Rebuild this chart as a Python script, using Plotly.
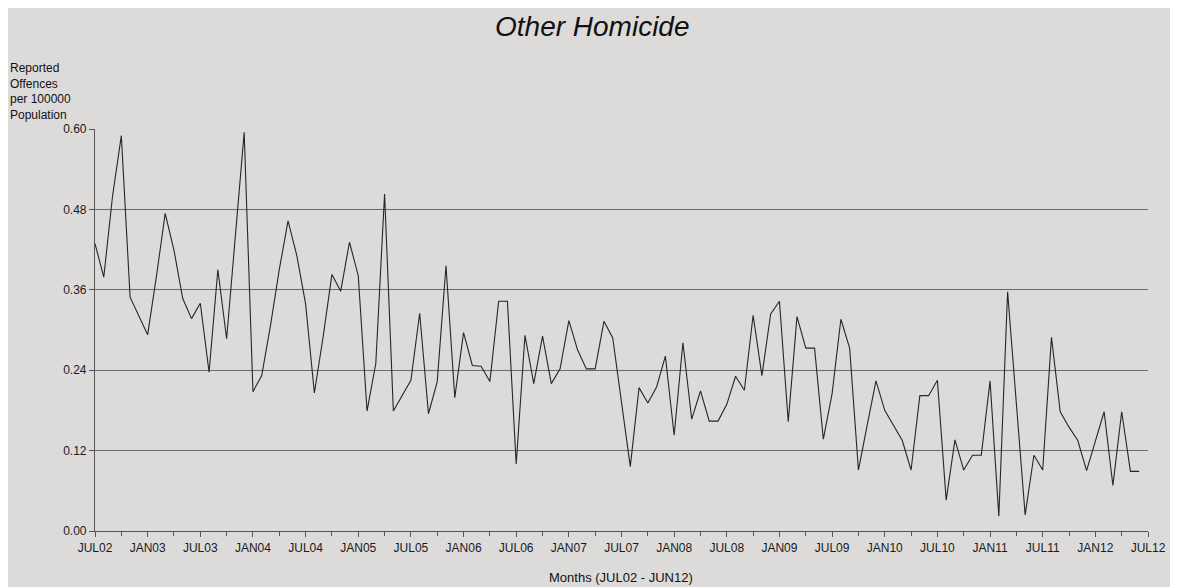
import plotly.graph_objects as go

# Monthly values JUL02 .. JUN12 (120 months), offences per 100000 population
values = [
    0.429, 0.379, 0.500, 0.590, 0.349, 0.322, 0.293, 0.380, 0.474, 0.419,
    0.347, 0.317, 0.340, 0.237, 0.390, 0.287, 0.440, 0.595, 0.208, 0.232,
    0.307, 0.390, 0.463, 0.411, 0.339, 0.206, 0.290, 0.383, 0.358, 0.431,
    0.381, 0.179, 0.250, 0.503, 0.179, 0.202, 0.225, 0.325, 0.175, 0.223,
    0.396, 0.199, 0.296, 0.247, 0.246, 0.223, 0.343, 0.343, 0.100, 0.292,
    0.220, 0.291, 0.220, 0.242, 0.314, 0.270, 0.242, 0.242, 0.313, 0.288,
    0.190, 0.096, 0.214, 0.191, 0.215, 0.261, 0.143, 0.281, 0.167, 0.209,
    0.164, 0.164, 0.189, 0.231, 0.210, 0.322, 0.232, 0.324, 0.343, 0.163,
    0.320, 0.273, 0.273, 0.137, 0.205, 0.316, 0.273, 0.091, 0.158, 0.224,
    0.180, 0.158, 0.135, 0.091, 0.202, 0.202, 0.225, 0.046, 0.136, 0.091,
    0.113, 0.113, 0.224, 0.022, 0.357, 0.190, 0.024, 0.113, 0.091, 0.289,
    0.178, 0.155, 0.135, 0.090, 0.133, 0.178, 0.068, 0.178, 0.089, 0.089,
]
months = list(range(len(values)))

tick_labels = ["JUL02", "JAN03", "JUL03", "JAN04", "JUL04", "JAN05", "JUL05",
               "JAN06", "JUL06", "JAN07", "JUL07", "JAN08", "JUL08", "JAN09",
               "JUL09", "JAN10", "JUL10", "JAN11", "JUL11", "JAN12", "JUL12"]
tick_positions = [6 * k for k in range(len(tick_labels))]
y_ticks = [0.00, 0.12, 0.24, 0.36, 0.48, 0.60]

BG = "#dcdbda"
FONT = "Liberation Sans, Arial, sans-serif"

# page is offset by the browser's 8px body margin
OFF = 8
W, H = 1178 - OFF, 587 - OFF
PL, PT, PR, PB = 95, 129, 1152, 531          # plot area in page pixels
L, T = PL - OFF, PT - OFF
R = W - (PR - OFF)
B = H - (PB - OFF)
pw, ph = PR - PL, PB - PT


def px(xp):
    return (xp - PL) / pw


def py(yp):
    return (PB - yp) / ph


fig = go.Figure()
fig.add_trace(go.Scatter(
    x=months, y=values, mode="lines",
    line=dict(color="#262626", width=1.1),
    hoverinfo="x+y", showlegend=False,
))

fig.update_layout(
    width=W, height=H,
    margin=dict(l=L, r=R, t=T, b=B),
    paper_bgcolor=BG,
    plot_bgcolor=BG,
    font=dict(family=FONT, color="#1a1a1a"),
    xaxis=dict(
        range=[0, 120], tickmode="array", tickvals=tick_positions, ticktext=tick_labels,
        showgrid=False, zeroline=False,
        showline=True, linecolor="#555555", linewidth=1.2,
        ticks="outside", ticklen=5, tickcolor="#555555", tickwidth=1.2,
        minor=dict(tickmode="linear", tick0=0, dtick=3, ticks="outside", ticklen=4,
                   tickcolor="#555555", tickwidth=1, showgrid=False),
        tickfont=dict(size=12, color="#1a1a1a"),
        fixedrange=True,
    ),
    yaxis=dict(
        range=[0, 0.6], tickmode="array", tickvals=y_ticks, tickformat=".2f",
        showgrid=True, gridcolor="#6b6b6b", gridwidth=1.3,
        zeroline=False,
        showline=True, linecolor="#555555", linewidth=1.2,
        ticks="outside", ticklen=5, tickcolor="#555555", tickwidth=1.2,
        tickfont=dict(size=12, color="#1a1a1a"),
        fixedrange=True,
    ),
)

# title
fig.add_annotation(
    text="Other Homicide", xref="paper", yref="paper",
    x=px(594), y=py(27), xanchor="center", yanchor="middle", showarrow=False,
    font=dict(size=28, style="italic", color="#111111", family=FONT),
)

# y-axis title
fig.add_annotation(
    text="Reported<br>Offences<br>per 100000<br>Population",
    xref="paper", yref="paper",
    x=px(8), y=py(59),
    xanchor="left", yanchor="top", align="left", showarrow=False,
    font=dict(size=12, color="#111111", family=FONT),
)

# x-axis title
fig.add_annotation(
    text="Months (JUL02 - JUN12)", xref="paper", yref="paper",
    x=px(623), y=py(577), xanchor="center", yanchor="middle", showarrow=False,
    font=dict(size=13, color="#111111", family=FONT),
)

fig.write_html("out.html")
